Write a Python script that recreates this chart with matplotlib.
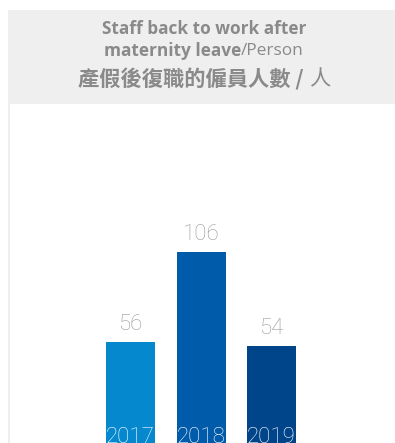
import matplotlib.pyplot as plt
from matplotlib.patches import Rectangle
from matplotlib.lines import Line2D

years = ["2017", "2018", "2019"]
staff = [56, 106, 54]
bar_colors = ["#0588CD", "#005BAA", "#004489"]

title_en1 = "Staff back to work after"
title_en2a = "maternity leave"
title_en2b = "/Person"
title_zh_a = "產假後復職的僱員人數 / "
title_zh_b = "人"

W, H = 395, 443
fig = plt.figure(figsize=(W / 100, H / 100), dpi=100)
fig.patch.set_facecolor("white")

# header box and the thin left rule
fig.add_artist(Rectangle((8 / W, 1 - 104 / H), 1, 94 / H, transform=fig.transFigure,
                         facecolor="#efefef", edgecolor="none"))
fig.add_artist(Line2D([9 / W, 9 / W], [0, 1 - 104 / H], transform=fig.transFigure,
                      color="#eeeeee", lw=1.5))

# bars run off the bottom edge, as in the original graphic
ax = fig.add_axes([8 / W, 0, 1 - 8 / W, 339 / H])
ax.set_facecolor("none")
x = range(len(years))
bars = ax.bar(x, staff, width=0.695, color=bar_colors)
ax.set_xlim(-1.738, 3.752)
ax.set_ylim(0, 188)
ax.axis("off")

for b, v, yr in zip(bars, staff, years):
    cx = b.get_x() + b.get_width() / 2
    ax.annotate(str(v), (cx, v), xytext=(0, 5), textcoords="offset points",
                ha="center", va="bottom", color="#999999", fontsize=16,
                family="Roboto", weight="light")
    ax.text(cx, 9, yr, ha="center", va="top", color="white", fontsize=16,
            family="Roboto", weight="light", clip_on=False)

grey = "#8a8a8a"
cx_fig = 204 / W
fig.text(cx_fig, 1 - 29 / H, title_en1, ha="center", va="center", color=grey,
         fontsize=12.4, family="Open Sans", weight="bold")


def two_part(y, a, b, fa, fb, size):
    r = fig.canvas.get_renderer()
    t1 = fig.text(0, y, a, va="center", ha="left", color=grey, fontsize=size, **fa)
    t2 = fig.text(0, y, b, va="center", ha="left", color=grey, fontsize=size, **fb)
    w1 = t1.get_window_extent(r).width / W
    w2 = t2.get_window_extent(r).width / W
    x0 = cx_fig - (w1 + w2) / 2
    t1.set_x(x0)
    t2.set_x(x0 + w1)


two_part(1 - 51 / H, title_en2a, title_en2b,
         dict(family="Open Sans", weight="bold"),
         dict(family="Open Sans", weight="normal"), 12.4)
two_part(1 - 79 / H, title_zh_a, title_zh_b,
         dict(family=["Noto Sans CJK TC", "DejaVu Sans"], weight="bold"),
         dict(family=["Noto Sans CJK TC", "DejaVu Sans"], weight="light"), 15.3)

fig.savefig("out.png", dpi=100)
